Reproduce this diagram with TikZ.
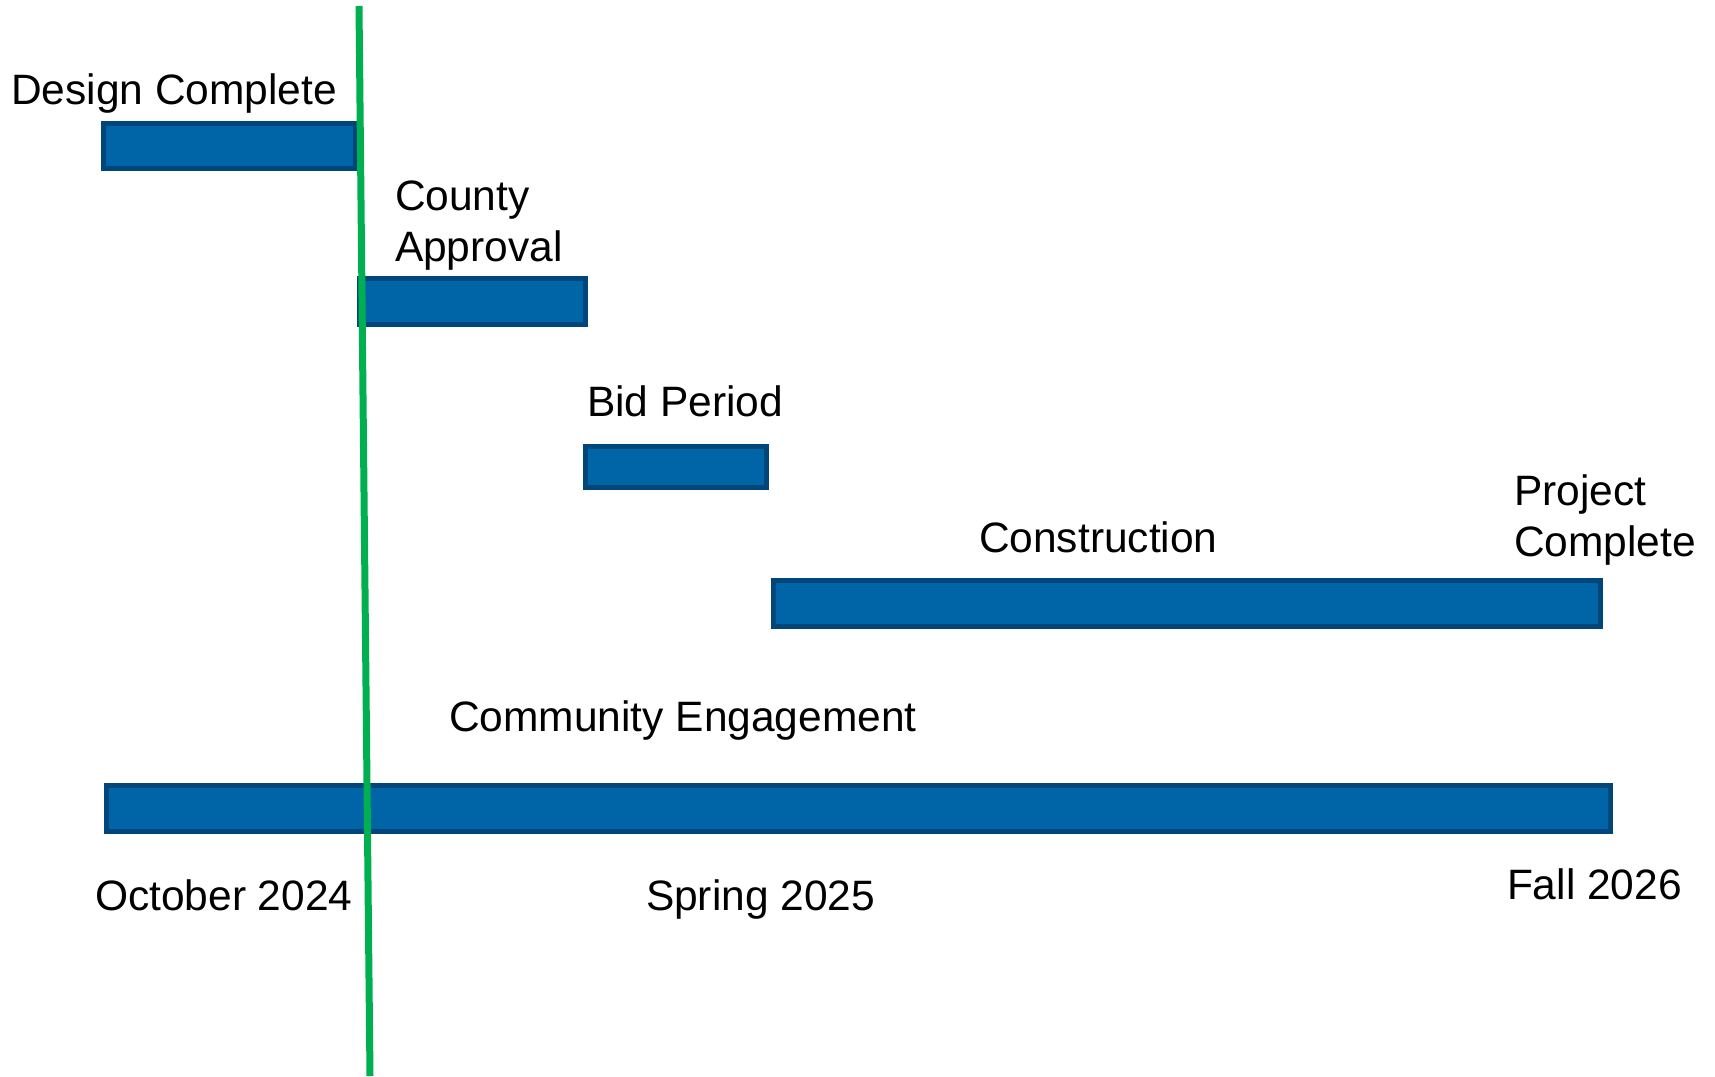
\documentclass[tikz,border=0pt]{standalone}
\usepackage{fontspec}
\setmainfont{Liberation Sans}
\definecolor{barfill}{RGB}{0,101,166}
\definecolor{barline}{RGB}{0,70,122}
\definecolor{todaygreen}{RGB}{0,176,80}
\begin{document}
\begin{tikzpicture}[x=1pt,y=-1pt,
  bar/.style={draw=barline,fill=barfill,line width=5pt,rectangle,inner sep=0pt,outer sep=0pt},
  lbl/.style={inner sep=0pt,outer sep=0pt,anchor=base west,align=left,font=\fontsize{42.5}{51}\selectfont},
  todayline/.style={draw=todaygreen,line width=7pt}]
\useasboundingbox (0,0) rectangle (1715,1076);
% bars
\node[bar,minimum width=252pt,minimum height=45pt] (design) at (229.5,146) {};
\node[bar,minimum width=226pt,minimum height=46pt] (county) at (472.5,301.5) {};
\node[bar,minimum width=181pt,minimum height=41pt] (bid) at (676,467) {};
\node[bar,minimum width=827pt,minimum height=46pt] (constr) at (1187,603.5) {};
\node[bar,minimum width=1504pt,minimum height=46pt] (community) at (858.5,808.5) {};
% labels
\node[lbl] (tdesign) at (11,104) {Design Complete};
\node[lbl] (tcounty) at (395,261) {County\\Approval};
\node[lbl] (tbid) at (587,416) {Bid Period};
\node[lbl] (tconstr) at (979,552) {Construction};
\node[lbl] (tproject) at (1514,556) {Project\\Complete};
\node[lbl] (tcomm) at (449,731) {Community Engagement};
\node[lbl] (toct) at (95,910) {October 2024};
\node[lbl] (tspring) at (646,910) {Spring 2025};
\node[lbl] (tfall) at (1507,899) {Fall 2026};
% today line
\coordinate (gtop) at (359,6);
\coordinate (gbot) at (370,1076);
\draw[todayline] (gtop) -- (gbot);
\end{tikzpicture}
\end{document}
